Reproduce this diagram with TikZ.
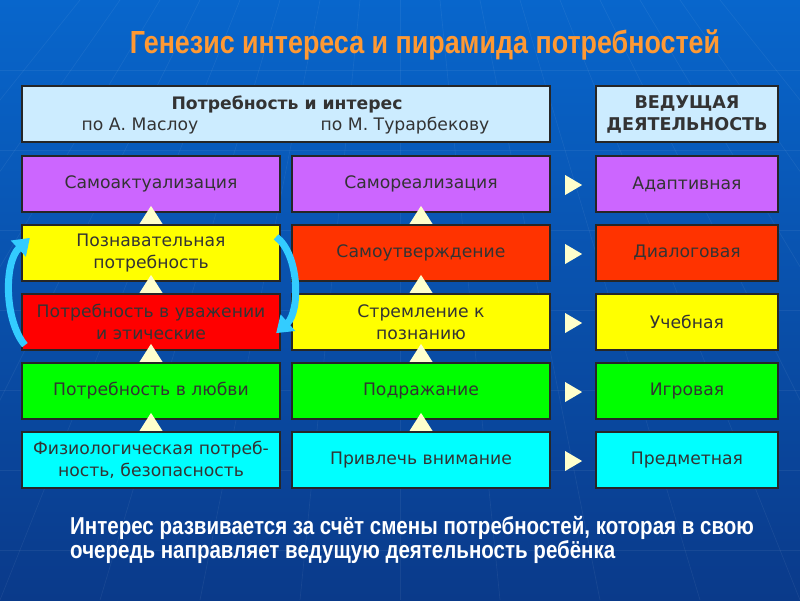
\documentclass[tikz,border=0pt]{standalone}
\usepackage{fontspec}
\setmainfont{DejaVu Sans}
\newfontfamily\narrowfont[FakeStretch=0.84]{Liberation Sans}
\usepackage{tikz}
\usetikzlibrary{arrows.meta,positioning,calc}
\definecolor{bgtop}{RGB}{8,102,204}
\definecolor{bgbot}{RGB}{10,58,138}
\definecolor{titleorange}{RGB}{255,153,51}
\definecolor{hdrblue}{RGB}{204,236,255}
\definecolor{selfviolet}{RGB}{204,102,255}
\definecolor{selfred}{RGB}{255,51,0}
\definecolor{esteemred}{RGB}{255,0,0}
\definecolor{cogyellow}{RGB}{255,255,0}
\definecolor{lovegreen}{RGB}{0,255,0}
\definecolor{physcyan}{RGB}{0,255,255}
\definecolor{boxtext}{RGB}{51,51,51}
\definecolor{markcream}{RGB}{255,255,204}
\definecolor{swapcyan}{RGB}{51,204,255}

\begin{document}
\begin{tikzpicture}[x=0.02cm, y=-0.02cm,
    needbox/.style={draw=black!85, line width=1.3pt, minimum width=5.16cm,
        minimum height=1.12cm, inner sep=1pt, align=center, text=boxtext,
        font=\fontsize{9.8}{12.5}\selectfont},
    actbox/.style={needbox, minimum width=3.64cm},
    marktri/.style={fill=markcream},
    swaparrow/.style={draw=swapcyan, line width=4pt,
        -{Triangle[length=9pt,width=12pt]}}]
    \useasboundingbox (0,0) rectangle (800,600);

    % Background
    \shade[top color=bgtop, bottom color=bgbot] (0,0) rectangle (800,600);
    \foreach \y in {70,150,...,600} {
        \draw[white, opacity=0.06] (0,\y) -- (800,\y);
    }
    \foreach \x in {-400,-300,...,1200} {
        \draw[white, opacity=0.06] ({400+(\x-400)*0.4},0) -- (\x,600);
    }

    % Title
    \node[font=\narrowfont\bfseries\fontsize{18.2}{20}\selectfont, text=titleorange]
        (title) at (425,45) {Генезис интереса и пирамида потребностей};

    % Header boxes
    \node[needbox, fill=hdrblue, minimum width=10.56cm] (hdneed) at (286,114) {};
    \node[font=\bfseries\fontsize{9.8}{12}\selectfont, text=boxtext]
        (hdtitle) at (287,104) {Потребность и интерес};
    \node[font=\fontsize{9.8}{12}\selectfont, text=boxtext]
        (hdmaslow) at (140,126) {по А. Маслоу};
    \node[font=\fontsize{9.8}{12}\selectfont, text=boxtext]
        (hdturar) at (405,126) {по М. Турарбекову};
    \node[actbox, fill=hdrblue, font=\bfseries\fontsize{10}{12.5}\selectfont]
        (hdact) at (687,114) {ВЕДУЩАЯ\\ДЕЯТЕЛЬНОСТЬ};

    % Maslow column
    \node[needbox, fill=selfviolet] (l1) at (151,184) {Самоактуализация};
    \node[needbox, fill=cogyellow] (l2) at (151,253) {Познавательная\\потребность};
    \node[needbox, fill=esteemred] (l3) at (151,322) {Потребность в уважении\\и этические};
    \node[needbox, fill=lovegreen] (l4) at (151,391) {Потребность в любви};
    \node[needbox, fill=physcyan] (l5) at (151,460) {Физиологическая потреб-\\ность, безопасность};

    % Turarbekov column
    \node[needbox, fill=selfviolet] (m1) at (421,184) {Самореализация};
    \node[needbox, fill=selfred] (m2) at (421,253) {Самоутверждение};
    \node[needbox, fill=cogyellow] (m3) at (421,322) {Стремление к\\познанию};
    \node[needbox, fill=lovegreen] (m4) at (421,391) {Подражание};
    \node[needbox, fill=physcyan] (m5) at (421,460) {Привлечь внимание};

    % Leading activity column
    \node[actbox, fill=selfviolet] (r1) at (687,184) {Адаптивная};
    \node[actbox, fill=selfred] (r2) at (687,253) {Диалоговая};
    \node[actbox, fill=cogyellow] (r3) at (687,322) {Учебная};
    \node[actbox, fill=lovegreen] (r4) at (687,391) {Игровая};
    \node[actbox, fill=physcyan] (r5) at (687,460) {Предметная};

    % Upward markers between levels
    \foreach \lo in {l2,l3,l4,l5,m2,m3,m4,m5} {
        \fill[marktri] ($(\lo.north)+(-11.5,0)$) -- ($(\lo.north)+(11.5,0)$)
            -- ($(\lo.north)+(0,-18)$) -- cycle;
    }

    % Markers towards activities
    \foreach \i in {1,...,5} {
        \fill[marktri] ($(m\i.east)+(14,-9)$) -- ($(m\i.east)+(31,1)$)
            -- ($(m\i.east)+(14,11)$) -- cycle;
    }

    % Exchange arrows between esteem and cognition
    \coordinate (swapLa) at ($(l3.south west)+(4,-6)$);
    \coordinate (swapLb) at ($(l2.north west)+(9,14)$);
    \coordinate (swapRa) at ($(l2.north east)+(-5,13)$);
    \coordinate (swapRb) at ($(l3.south east)+(-5,-18)$);
    \draw[swaparrow] (swapLa) .. controls (4,320) and (4,262) .. (swapLb);
    \draw[swaparrow] (swapRa) .. controls (300,255) and (300,312) .. (swapRb);

    % Conclusion
    \node[anchor=west, align=left, text=white,
        font=\narrowfont\bfseries\fontsize{13.9}{13}\selectfont]
        (note) at (64,540) {Интерес развивается за счёт смены потребностей, которая в свою\\
        очередь направляет ведущую деятельность ребёнка};
\end{tikzpicture}
\end{document}
